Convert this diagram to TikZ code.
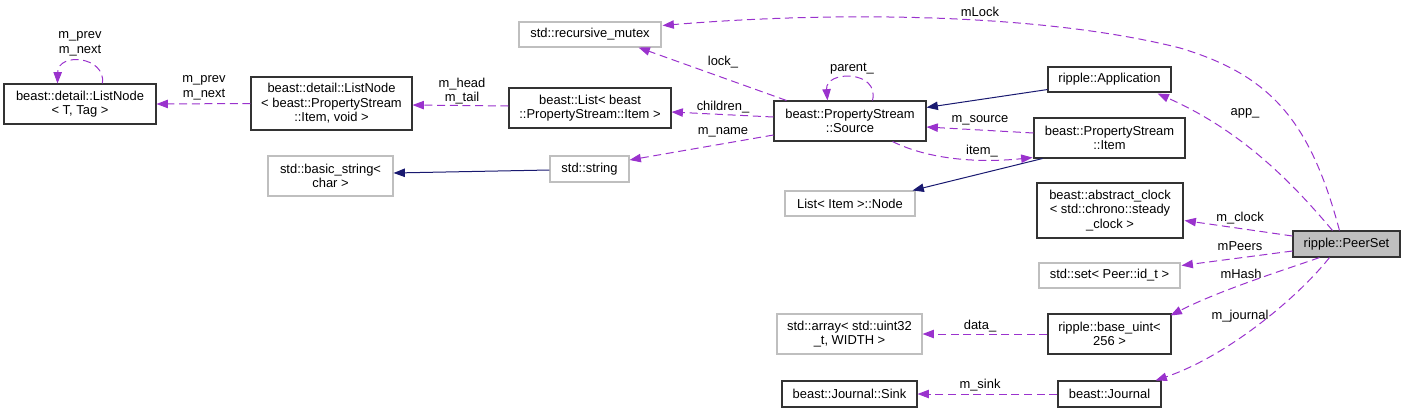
\documentclass[tikz,border=0pt]{standalone}
\usepackage{fontspec}
\setmainfont{Liberation Sans}
\usetikzlibrary{arrows.meta,calc}
\definecolor{mem}{HTML}{9A32CD}
\definecolor{inh}{HTML}{191970}
\definecolor{gborder}{HTML}{BFBFBF}
\tikzset{
  box/.style 2 args={draw, line width=0.8pt, inner sep=0pt, align=center,
     minimum width=#1*0.75pt, minimum height=#2*0.75pt,
     font=\fontsize{9.7}{10.9}\selectfont},
  cls/.style={draw=black!80},
  ext/.style={draw=gborder},
  cur/.style={draw=black!80, fill=gborder},
  memb/.style={draw=mem, line width=0.75pt, dash pattern=on 6pt off 3.5pt,
     -{Triangle[length=8.5pt,width=6.3pt,fill=mem]}},
  inhe/.style={draw=inh, line width=0.75pt,
     -{Triangle[length=8.5pt,width=6.3pt,fill=inh]}},
  lbl/.style={inner sep=0pt, align=center, font=\fontsize{9.7}{10.9}\selectfont}
}
\begin{document}
\begin{tikzpicture}[x=0.75pt,y=-0.75pt]
\useasboundingbox (0,0) rectangle (1405,412);
% nodes
\node[box={152}{40},cls] (ln1) at (80,104) {beast::detail::ListNode\\{}< T, Tag >};
\node[box={161}{53},cls] (ln2) at (331.5,103.5) {beast::detail::ListNode\\{}< beast::PropertyStream\\::Item, void >};
\node[box={142}{25},ext] (mutex) at (590,34.5) {std::recursive\_mutex};
\node[box={162}{40},cls] (list) at (590,108) {beast::List< beast\\::PropertyStream::Item >};
\node[box={79}{26},ext] (str) at (589.5,169) {std::string};
\node[box={125}{40},ext] (bstr) at (330.5,176) {std::basic\_string<\\char >};
\node[box={152}{40},cls] (src) at (850,121) {beast::PropertyStream\\::Source};
\node[box={123}{25},cls] (app) at (1109.5,79.5) {ripple::Application};
\node[box={151}{40},cls] (item) at (1109.5,138) {beast::PropertyStream\\::Item};
\node[box={130}{25},ext] (lnode) at (850,203.5) {List< Item >::Node};
\node[box={146}{55},cls] (clock) at (1110,210.5) {beast::abstract\_clock\\{}< std::chrono::steady\\\_clock >};
\node[box={141}{25},ext] (set) at (1109.5,275.5) {std::set< Peer::id\_t >};
\node[box={145}{40},ext] (arr) at (849.5,334) {std::array< std::uint32\\\_t, WIDTH >};
\node[box={123}{40},cls] (buint) at (1109.5,334) {ripple::base\_uint<\\256 >};
\node[box={135}{26},cls] (sink) at (849.5,394) {beast::Journal::Sink};
\node[box={103}{26},cls] (jour) at (1109.5,394) {beast::Journal};
\node[box={107}{26},cur] (peer) at (1346.5,244) {ripple::PeerSet};
% inheritance
\draw[inhe] ($(app.south west)+(0,-3)$) -- ($(src.north east)+(0,7)$);
\draw[inhe] ($(str.west)+(0,1)$) -- ($(bstr.east)+(0,-3)$);
\draw[inhe] ($(item.south west)+(9,0)$) -- ($(lnode.north east)+(-3,0)$);
% members
\draw[memb] ($(peer.north west)+(47,0)$) .. controls (1310,120) and (1270,75) .. (1180,48)
   .. controls (1050,15) and (850,10) .. ($(mutex.north east)+(1,4)$);
\node[lbl] (lmlock) at (980,12) {mLock};
\draw[memb] ($(peer.north west)+(40,0)$) .. controls (1290,180) and (1240,130) .. ($(app.south east)+(-14,1)$);
\node[lbl] (lapp) at (1245,113) {app\_};
\draw[memb] ($(peer.west)+(0,-8)$) -- ($(clock.east)+(1,10)$);
\node[lbl] (lclock) at (1240,218) {m\_clock};
\draw[memb] ($(peer.west)+(0,7)$) -- ($(set.east)+(1,-10)$);
\node[lbl] (lpeers) at (1240,246) {mPeers};
\draw[memb] ($(peer.south west)+(27,0)$) .. controls (1290,268) and (1220,290) .. ($(buint.north east)+(-1,2)$);
\node[lbl] (lhash) at (1241,274) {mHash};
\draw[memb] ($(peer.south west)+(37,0)$) .. controls (1300,295) and (1230,355) .. ($(jour.north east)+(-6,0)$);
\node[lbl] (ljour) at (1240,316) {m\_journal};
\draw[memb] (buint.west) -- (arr.east);
\node[lbl] (ldata) at (980,326) {data\_};
\draw[memb] (jour.west) -- (sink.east);
\node[lbl] (lsink) at (980,385) {m\_sink};
\draw[memb] ($(src.north west)+(13,0)$) -- ($(mutex.south east)+(-23,0)$);
\node[lbl] (llock) at (723,62) {lock\_};
\draw[memb] ($(src.west)+(0,-4)$) -- ($(list.east)+(0,4)$);
\node[lbl] (lchild) at (723,107) {children\_};
\draw[memb] ($(src.west)+(0,14)$) -- ($(str.east)+(0,-9)$);
\node[lbl] (lname) at (723,132) {m\_name};
\draw[memb] ($(list.west)+(0,-2)$) -- ($(ln2.east)+(0,1.5)$);
\node[lbl] (lhead) at (462,91) {m\_head\\m\_tail};
\draw[memb] ($(ln2.west)+(0,0)$) -- ($(ln1.east)+(0,0)$);
\node[lbl] (lprev2) at (204,88) {m\_prev\\m\_next};
\draw[memb] ($(ln1.north west)+(99,0)$) .. controls (106,56) and (58,52) .. ($(ln1.north west)+(54,0)$);
\node[lbl] (lprev1) at (80,44) {m\_prev\\m\_next};
\draw[memb] ($(src.north west)+(99,0)$) .. controls (880,70) and (825,70) .. ($(src.north west)+(54,0)$);
\node[lbl] (lparent) at (852,69) {parent\_};
\draw[memb] ($(item.west)+(0,-5)$) -- ($(src.east)+(0,6)$);
\node[lbl] (lsrc) at (980,120) {m\_source};
\draw[memb] ($(src.south west)+(119,0)$) .. controls (930,160) and (980,163) .. ($(item.south west)+(-1,-1)$);
\node[lbl] (litem) at (982,151) {item\_};
\end{tikzpicture}
\end{document}
